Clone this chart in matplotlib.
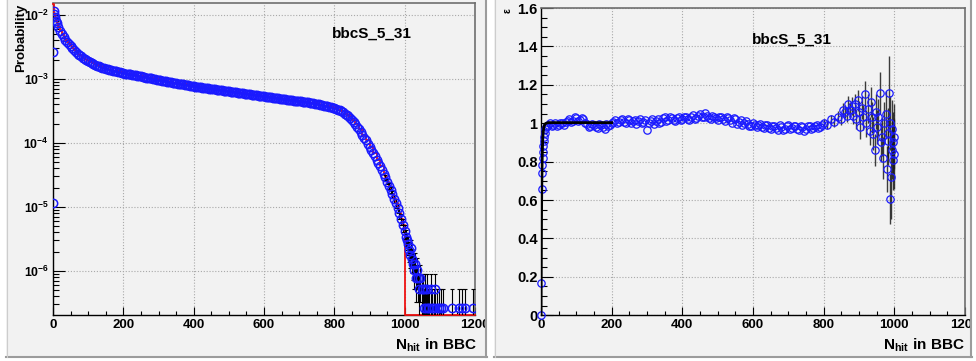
import numpy as np
import matplotlib
matplotlib.use("Agg")
import matplotlib.pyplot as plt
from matplotlib.patches import Rectangle
from matplotlib.lines import Line2D
from matplotlib.ticker import (FixedLocator, FuncFormatter, LogLocator,
                               MultipleLocator, NullFormatter)

W, H = 976, 361
plt.rcParams["font.family"] = ["Liberation Sans", "DejaVu Sans"]
plt.rcParams["font.weight"] = "bold"
plt.rcParams["mathtext.fontset"] = "custom"
plt.rcParams["mathtext.rm"] = "Liberation Sans:bold"
plt.rcParams["mathtext.bf"] = "Liberation Sans:bold"
plt.rcParams["mathtext.it"] = "Liberation Sans:bold:italic"

# ---- left pad: N_hit probability (blue points, red reference histogram)
PROB_X = [0, 1, 2, 3, 5, 8, 10, 15, 20, 25, 30, 35, 40, 45, 50, 55, 60, 65, 70, 75, 80, 85, 90, 95] \
    + list(range(100, 950, 10))
PROB_Y = [1.15e-5, 2.6e-3, 1.15e-2, 1.05e-2, 9.3e-3, 8.0e-3, 7.4e-3, 6.4e-3, 5.6e-3, 5.0e-3,
          4.5e-3, 4.1e-3, 3.8e-3, 3.5e-3, 3.25e-3, 3.05e-3, 2.85e-3, 2.67e-3, 2.5e-3, 2.37e-3,
          2.25e-3, 2.15e-3, 2.05e-3, 1.96e-3,
          1.88e-3, 1.76e-3, 1.66e-3, 1.58e-3, 1.51e-3, 1.45e-3, 1.40e-3, 1.35e-3, 1.31e-3, 1.27e-3,
          1.23e-3, 1.20e-3, 1.18e-3, 1.15e-3, 1.12e-3, 1.10e-3, 1.07e-3, 1.04e-3, 1.02e-3, 9.9e-4,
          9.66e-4, 9.4e-4, 9.18e-4, 8.97e-4, 8.77e-4, 8.59e-4, 8.4e-4, 8.22e-4, 8.04e-4, 7.87e-4,
          7.69e-4, 7.53e-4, 7.38e-4, 7.25e-4, 7.12e-4, 7.0e-4, 6.88e-4, 6.76e-4, 6.64e-4, 6.52e-4,
          6.41e-4, 6.3e-4, 6.18e-4, 6.07e-4, 5.97e-4, 5.86e-4, 5.75e-4, 5.66e-4, 5.56e-4, 5.46e-4,
          5.37e-4, 5.27e-4, 5.18e-4, 5.08e-4, 5.0e-4, 4.91e-4, 4.83e-4, 4.74e-4, 4.66e-4, 4.57e-4,
          4.5e-4, 4.42e-4, 4.34e-4, 4.25e-4, 4.15e-4, 4.05e-4, 3.95e-4, 3.85e-4, 3.74e-4, 3.62e-4,
          3.48e-4, 3.32e-4, 3.12e-4, 2.88e-4, 2.6e-4, 2.28e-4, 1.95e-4, 1.63e-4, 1.34e-4, 1.1e-4,
          8.8e-5, 7.0e-5, 5.5e-5, 4.3e-5, 3.3e-5]
# the in-between bins (105, 115, ... 935)
PROB_X2 = list(range(105, 940, 10))
PROB_Y2 = [1.82e-3, 1.71e-3, 1.62e-3, 1.545e-3, 1.48e-3, 1.425e-3, 1.375e-3, 1.33e-3, 1.29e-3, 1.25e-3,
           1.215e-3, 1.19e-3, 1.165e-3, 1.135e-3, 1.11e-3, 1.085e-3, 1.055e-3, 1.03e-3, 1.005e-3, 9.78e-4,
           9.53e-4, 9.29e-4, 9.07e-4, 8.87e-4, 8.68e-4, 8.5e-4, 8.31e-4, 8.13e-4, 7.95e-4, 7.78e-4,
           7.61e-4, 7.45e-4, 7.31e-4, 7.18e-4, 7.06e-4, 6.94e-4, 6.82e-4, 6.7e-4, 6.58e-4, 6.46e-4,
           6.35e-4, 6.24e-4, 6.12e-4, 6.02e-4, 5.91e-4, 5.8e-4, 5.7e-4, 5.61e-4, 5.51e-4, 5.41e-4,
           5.32e-4, 5.22e-4, 5.13e-4, 5.04e-4, 4.95e-4, 4.87e-4, 4.78e-4, 4.7e-4, 4.61e-4, 4.53e-4,
           4.46e-4, 4.38e-4, 4.3e-4, 4.2e-4, 4.1e-4, 4.0e-4, 3.9e-4, 3.8e-4, 3.68e-4, 3.55e-4,
           3.4e-4, 3.22e-4, 3.0e-4, 2.74e-4, 2.44e-4, 2.11e-4, 1.79e-4, 1.48e-4, 1.21e-4, 9.8e-5,
           7.9e-5, 6.2e-5, 4.9e-5, 3.8e-5]

TAIL_X = [945, 950, 955, 960, 965, 970, 975, 980, 985, 990, 995, 1000,
          1003, 1006, 1009, 1012, 1015, 1018, 1021, 1024, 1027, 1030, 1033, 1036, 1039,
          1042, 1045, 1048, 1051, 1054, 1057, 1060, 1063,
          1066, 1070, 1074, 1078, 1082, 1087, 1092, 1098, 1103, 1108,
          1134, 1155, 1162, 1171, 1194]
TAIL_Y = [2.9e-5, 2.5e-5, 2.15e-5, 1.85e-5, 1.6e-5, 1.35e-5, 1.15e-5, 9.5e-6, 8.0e-6, 6.5e-6, 5.3e-6, 4.2e-6,
          3.4e-6, 3.0e-6, 2.6e-6, 2.1e-6, 1.8e-6, 2.3e-6, 1.55e-6, 1.3e-6, 1.05e-6, 1.3e-6, 7.8e-7, 1.05e-6, 7.8e-7,
          5.2e-7, 7.8e-7, 5.2e-7, 5.2e-7, 2.6e-7, 5.2e-7, 2.6e-7, 5.2e-7,
          2.6e-7, 2.6e-7, 5.2e-7, 2.6e-7, 2.6e-7, 5.2e-7, 2.6e-7, 2.6e-7, 2.6e-7, 2.6e-7,
          2.6e-7, 2.6e-7, 2.6e-7, 2.6e-7, 2.6e-7]
TAIL_ERR = [2.75e-6, 2.55e-6, 2.36e-6, 2.2e-6, 2.04e-6, 1.87e-6, 1.73e-6, 1.57e-6, 1.44e-6, 1.3e-6, 1.17e-6, 1.04e-6,
            9.4e-7, 8.8e-7, 8.2e-7, 7.4e-7, 6.8e-7, 7.7e-7, 6.3e-7, 5.8e-7, 5.2e-7, 5.8e-7, 4.5e-7, 5.2e-7, 4.5e-7,
            3.7e-7, 4.5e-7, 3.7e-7, 3.7e-7, 2.55e-7, 3.7e-7, 2.55e-7, 3.7e-7,
            2.55e-7, 2.55e-7, 3.7e-7, 2.55e-7, 2.55e-7, 3.7e-7, 2.55e-7, 2.55e-7, 2.55e-7, 2.55e-7,
            2.55e-7, 2.55e-7, 2.55e-7, 2.55e-7, 2.55e-7]

# reference histogram: first bins differ, then follows the points, empty above 1000
RED_HEAD_X = [0, 1, 2]
RED_HEAD_Y = [1.5e-2, 1.5e-2, 1.3e-2]
RED_LAST = 1000

# ---- right pad: efficiency
EFF_HEAD_X = [0, 1, 2, 3, 4, 5, 6, 7, 8, 9, 10, 12, 14, 17]
EFF_HEAD_Y = [0.0, 0.17, 0.66, 0.74, 0.78, 0.82, 0.85, 0.88, 0.91, 0.93, 0.95, 0.97, 0.98, 0.985]
EFF_MID_X = list(range(20, 800, 10))
EFF_MID_Y = [0.99, 0.985, 1.0, 0.99, 1.0, 1.005, 1.02, 1.01, 1.025, 1.015,
             1.02, 0.995, 0.985, 0.99, 0.975, 0.99, 0.97, 0.985, 1.0, 1.015,
             1.005, 1.02, 1.0, 1.015, 1.01, 0.995, 1.02, 1.005, 0.965, 1.01,
             0.995, 1.02, 1.005, 1.03, 1.015, 1.025, 1.01, 1.035, 1.02, 1.03,
             1.015, 1.045, 1.025, 1.05, 1.03, 1.04, 1.02, 1.035, 1.015, 1.03,
             1.01, 1.025, 1.0, 1.02, 1.005, 0.99, 1.01, 0.985, 1.0, 0.98,
             0.995, 0.975, 0.99, 0.97, 0.985, 0.965, 0.98, 0.97, 0.99, 0.975,
             0.985, 0.965, 0.98, 0.97, 0.985, 0.975, 0.99, 0.98]
EFF_MID2_X = list(range(25, 800, 10))
EFF_MID2_Y = [1.0, 0.99, 0.985, 1.0, 0.99, 1.01, 1.005, 1.03, 1.01, 1.025,
              1.0, 0.98, 0.995, 0.98, 0.995, 0.98, 0.995, 0.99, 1.005, 1.0,
              1.015, 1.005, 1.02, 1.0, 1.015, 1.01, 1.0, 1.015, 1.0, 1.02,
              1.01, 1.0, 1.025, 1.01, 1.03, 1.015, 1.025, 1.015, 1.035, 1.02,
              1.03, 1.02, 1.04, 1.03, 1.055, 1.025, 1.04, 1.025, 1.035, 1.02,
              1.03, 1.015, 1.025, 0.995, 1.015, 1.0, 0.995, 0.985, 0.99, 0.99,
              0.98, 0.99, 0.975, 0.985, 0.975, 0.99, 0.965, 0.985, 0.97, 0.985,
              0.97, 0.985, 0.96, 0.985, 0.97, 0.985, 0.975, 0.99]
EFF_END_X = [800, 810, 820, 830, 840, 850, 855, 860, 865, 870,
             875, 880, 884, 888, 892, 896, 900, 904, 908, 912, 917, 921, 926, 930,
             934, 937, 940, 944, 948, 952, 955, 960, 963, 966, 969, 972, 975, 978,
             981, 983, 985, 987, 988, 990, 992, 993, 995, 996, 998, 999]
EFF_END_Y = [1.0, 0.99, 1.02, 1.005, 1.035, 1.02, 1.07, 1.06, 1.04, 1.10,
             1.07, 1.09, 1.04, 1.10, 1.02, 1.12, 1.06, 0.98, 1.08, 1.03, 1.15, 1.0, 1.075, 0.96,
             1.11, 1.03, 0.945, 0.86, 1.06, 0.98, 1.03, 1.156, 0.9, 0.93, 0.82, 1.0, 1.05, 0.76,
             0.95, 0.91, 1.16, 1.0, 0.606, 0.72, 0.97, 0.86, 0.9, 0.81, 0.93, 0.84]
EFF_END_ERR = [0.02, 0.02, 0.025, 0.025, 0.03, 0.03, 0.035, 0.035, 0.035, 0.04,
               0.04, 0.045, 0.045, 0.05, 0.05, 0.055, 0.055, 0.06, 0.06, 0.065, 0.07, 0.07, 0.075, 0.075,
               0.08, 0.08, 0.085, 0.085, 0.09, 0.09, 0.095, 0.11, 0.1, 0.1, 0.11, 0.11, 0.12, 0.12,
               0.13, 0.13, 0.19, 0.14, 0.13, 0.22, 0.15, 0.15, 0.16, 0.16, 0.17, 0.18]
FIT_X = [0, 1, 2, 3, 4, 5, 6, 8, 10, 12, 15, 20, 200]
FIT_Y = [0.0, 0.39, 0.63, 0.78, 0.86, 0.92, 0.95, 0.98, 0.99, 0.997, 1.0, 1.003, 1.003]

LABEL = "bbcS_5_31"
XLABEL = r"$\mathbf{N_{hit}\ in\ BBC}$"

PAD = "#f2f2f2"
BLUE = "#1a1aff"
YMIN_L, YMAX_L = 2.05e-7, 1.54e-2


def fx(px):
    return px / W


def fy(py):
    return 1 - py / H


fig = plt.figure(figsize=(W / 100, H / 100), dpi=100)
fig.patch.set_facecolor("white")

# ROOT-like pads
for x0, x1 in [(6, 487), (494, 972)]:
    fig.patches.append(Rectangle((fx(x0), fy(357)), (x1 - x0) / W, 357 / H, transform=fig.transFigure,
                                 facecolor=PAD, edgecolor="none", zorder=-10))
for x0, x1 in [(487, 494), (972, 977)]:
    fig.patches.append(Rectangle((fx(x0), 0), (x1 - x0) / W, 1, transform=fig.transFigure,
                                 facecolor="white", edgecolor="none", zorder=9))
for x0, x1 in [(6, 487), (494, 972)]:
    fig.lines.append(Line2D([fx(x0), fx(x1)], [fy(356.5)] * 2, transform=fig.transFigure,
                            color="#9c9c9c", lw=1.5, zorder=10))
    fig.lines.append(Line2D([fx(x1 - 1)] * 2, [fy(0), fy(357)], transform=fig.transFigure,
                            color="#9c9c9c", lw=1.5, zorder=10))
    fig.lines.append(Line2D([fx(x0 + 0.5)] * 2, [fy(0), fy(357)], transform=fig.transFigure,
                            color="#cdcdcd", lw=0.8, zorder=10))

axL = fig.add_axes([fx(53), fy(315), (475 - 53) / W, (315 - 3) / H])
axR = fig.add_axes([fx(541), fy(315.3), (965 - 541) / W, (315.3 - 8) / H])

for ax in (axL, axR):
    ax.set_facecolor(PAD)
    ax.set_xlim(0, 1200)
    ax.xaxis.set_major_locator(MultipleLocator(200))
    ax.xaxis.set_minor_locator(MultipleLocator(50))
    ax.xaxis.set_major_formatter(FuncFormatter(lambda v, p: "%d" % v))
    ax.grid(True, which="major", color="#a9a9a9", linestyle=(0, (1, 1.6)), lw=0.8)
    ax.set_axisbelow(True)
    for s in ("top", "right"):
        ax.spines[s].set_color("#6e6e6e")
        ax.spines[s].set_linewidth(1.2)
    for s in ("left", "bottom"):
        ax.spines[s].set_color("black")
        ax.spines[s].set_linewidth(1.0)
    ax.tick_params(which="both", direction="in", top=False, right=False, width=0.8, color="black")
    ax.tick_params(axis="x", which="major", length=6, pad=3, labelsize=9.5)
    ax.tick_params(axis="x", which="minor", length=3)

# left panel
axL.set_yscale("log")
axL.set_ylim(YMIN_L, YMAX_L)
axL.yaxis.set_major_locator(FixedLocator([1e-6, 1e-5, 1e-4, 1e-3, 1e-2]))
axL.yaxis.set_major_formatter(FuncFormatter(lambda v, p: r"$\mathbf{10^{%d}}$" % round(np.log10(v))))
axL.yaxis.set_minor_locator(LogLocator(base=10, subs=np.arange(2, 10), numticks=20))
axL.yaxis.set_minor_formatter(NullFormatter())
axL.tick_params(axis="y", which="major", length=8.5, pad=3, labelsize=8.8)
axL.tick_params(axis="y", which="minor", length=4.5)

red_x = RED_HEAD_X + PROB_X[3:] + [x for x in TAIL_X if x <= RED_LAST] + [RED_LAST, 1200]
red_y = RED_HEAD_Y + PROB_Y[3:] + [y for x, y in zip(TAIL_X, TAIL_Y) if x <= RED_LAST] + [YMIN_L, YMIN_L]
axL.plot(red_x, red_y, drawstyle="steps-post", color="#ee1111", lw=1.3, zorder=3, clip_on=False)
axL.errorbar(TAIL_X, TAIL_Y, yerr=TAIL_ERR, fmt="none", ecolor="black", elinewidth=0.8,
             capsize=1.6, capthick=0.8, zorder=4)
axL.plot(PROB_X + PROB_X2 + TAIL_X, PROB_Y + PROB_Y2 + TAIL_Y, "o",
         mfc="none", mec=BLUE, ms=6, mew=1.1, zorder=5)

# right panel
axR.set_ylim(0, 1.6)
axR.yaxis.set_major_locator(MultipleLocator(0.2))
axR.yaxis.set_minor_locator(MultipleLocator(0.05))
axR.yaxis.set_major_formatter(FuncFormatter(lambda v, p: "%g" % round(v, 2)))
axR.tick_params(axis="y", which="major", length=8.5, pad=2.5, labelsize=10.5)
axR.tick_params(axis="y", which="minor", length=4.5)

axR.errorbar(EFF_END_X, EFF_END_Y, yerr=EFF_END_ERR, fmt="none", ecolor="#1c1c1c", elinewidth=1.0,
             alpha=0.85, zorder=3)
axR.plot(EFF_HEAD_X + EFF_MID_X + EFF_MID2_X + EFF_END_X,
         EFF_HEAD_Y + EFF_MID_Y + EFF_MID2_Y + EFF_END_Y, "o",
         mfc="none", mec=BLUE, ms=5.3, mew=0.9, zorder=4, clip_on=False)
axR.plot(FIT_X, FIT_Y, color="black", lw=2.0, zorder=5)

for ax in (axL, axR):
    for lab in ax.get_xticklabels() + ax.get_yticklabels():
        lab.set_fontweight("bold")

# texts
fig.text(fx(332), fy(34), LABEL, fontsize=11, fontweight="bold", ha="left", va="center")
fig.text(fx(752), fy(40), LABEL, fontsize=11, fontweight="bold", ha="left", va="center")
fig.text(fx(477), fy(345), XLABEL, fontsize=11, ha="right", va="center")
fig.text(fx(965), fy(345), XLABEL, fontsize=11, ha="right", va="center")
fig.text(fx(21), fy(4), "Probability", fontsize=9.5, fontweight="bold", rotation=90, ha="center", va="top")
fig.text(fx(508), fy(8), "ε", fontsize=7.5, rotation=90, ha="center", va="top")

fig.savefig("out.png", dpi=100, facecolor="white")
